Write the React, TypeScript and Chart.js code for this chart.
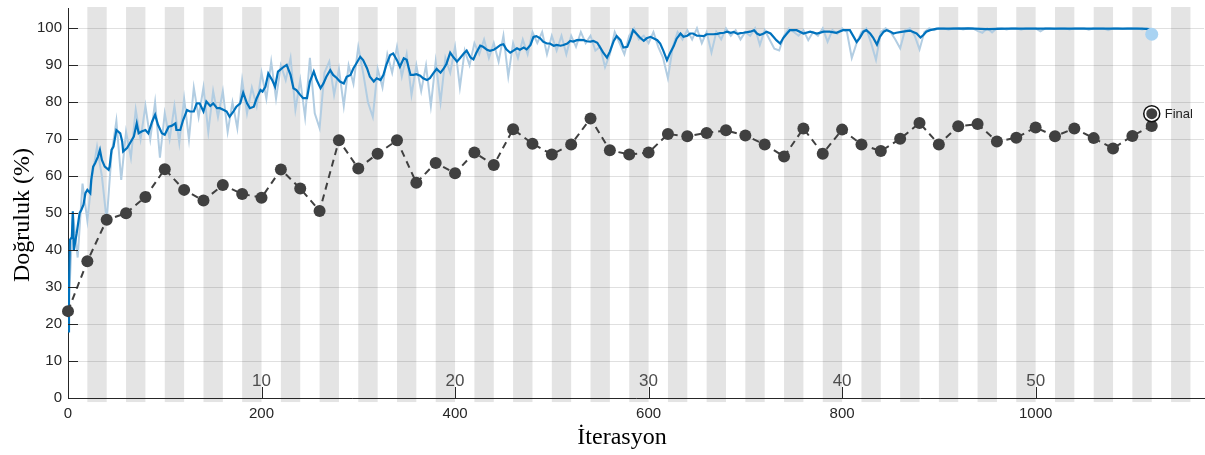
import React, { useEffect, useRef } from "react";
import { Chart, registerables } from "chart.js";

Chart.register(...registerables);

// ---------- data ----------
const ITER_PER_EPOCH = 20;
const TOTAL_EPOCHS = 58;
const epochTickLabels = [10, 20, 30, 40, 50];
const xTickValues = [0, 200, 400, 600, 800, 1000];
const yTickValues = [0, 10, 20, 30, 40, 50, 60, 70, 80, 90, 100];
const X_MAX = 1174;
const Y_MAX = 105.5;

const smoothIter = [
  0, 1, 2, 4, 5, 6, 9, 12, 14, 16, 18, 20, 23, 24, 26, 28, 31, 33, 35, 38, 42, 43, 45, 47, 50, 54, 56, 57, 61, 64,
  68, 71, 73, 76, 80, 83, 87, 90, 93, 97, 100, 104, 107, 111, 112, 116, 119, 123, 126, 130, 133, 136, 140, 143, 147,
  150, 154, 157, 161, 164, 167, 171, 174, 178, 181, 185, 188, 192, 195, 199, 201, 204, 207, 211, 214, 217, 223, 226,
  230, 233, 236, 240, 243, 247, 250, 254, 257, 261, 264, 267, 271, 274, 278, 281, 285, 288, 292, 295, 298, 302, 305,
  309, 312, 316, 319, 323, 326, 329, 333, 336, 340, 343, 347, 350, 354, 357, 360, 364, 367, 371, 374, 378, 381, 385,
  388, 391, 395, 398, 402, 405, 409, 412, 416, 419, 422, 426, 429, 433, 436, 440, 443, 447, 450, 453, 457, 460, 464,
  467, 471, 474, 478, 481, 484, 488, 491, 495, 498, 502, 505, 509, 512, 516, 519, 522, 526, 529, 533, 536, 540, 543,
  547, 550, 553, 557, 560, 564, 567, 571, 574, 578, 581, 584, 588, 591, 595, 598, 602, 605, 609, 612, 615, 619, 622,
  626, 629, 633, 636, 640, 643, 646, 650, 653, 657, 660, 664, 667, 671, 674, 678, 681, 685, 688, 692, 695, 698, 705,
  709, 712, 715, 719, 722, 726, 729, 732, 736, 739, 743, 746, 753, 760, 767, 774, 781, 787, 794, 801, 808, 812, 815,
  818, 822, 825, 829, 832, 836, 839, 843, 846, 850, 853, 856, 863, 870, 877, 881, 884, 887, 891, 898, 910, 930, 950,
  970, 1000, 1030, 1060, 1090, 1110, 1120,
];
const smoothAcc = [
  18, 30, 42.8, 43.5, 50.5, 40, 44.6, 50, 51, 52.3, 55.4, 56.3, 55.4, 59, 62.6, 63.5, 65.3, 67.1, 64.4, 62.6, 61.7,
  62.6, 67.1, 68, 72.5, 71.6, 69.4, 66.7, 67.6, 68.9, 70.7, 74.3, 71.6, 72.1, 72.5, 71.6, 74.8, 76.6, 73.9, 71.6, 71.2,
  73.4, 73.6, 74.3, 72.5, 72.5, 75.2, 77.9, 77.5, 77.5, 79.7, 79.7, 77.5, 80.2, 79, 79.7, 78.4, 78.4, 77.9, 77.5, 76.1,
  77.5, 78.8, 79.7, 82.6, 79.7, 78.4, 78.8, 81.1, 83.3, 82.9, 84.2, 87.8, 86, 84.2, 88.3, 89.6, 90.1, 87.4, 83.8, 83.3,
  82, 81.1, 81.1, 85.6, 88.3, 86, 83.8, 85.1, 86.9, 88.7, 87.4, 86.5, 85.6, 85.1, 86.9, 87.4, 89.2, 90.5, 92.3, 91.4,
  89.2, 86.9, 85.6, 86.5, 86, 87.4, 90.1, 92.8, 93.2, 91.4, 89.6, 91.9, 91.5, 87.4, 87.4, 87.6, 87.2, 86.5, 86, 86.5,
  88, 89, 88, 89, 90.3, 93.4, 92.3, 91, 91.9, 93.2, 94, 92.1, 91.6, 93.4, 95.3, 95, 94.2, 93.9, 94.2, 94.7, 95.5, 95.7,
  94.3, 93.4, 93.9, 94.6, 94.2, 94.8, 94.3, 95.5, 97.7, 97.9, 97.3, 96.4, 95.9, 95.9, 95.3, 95.5, 95.3, 95.5, 95.9,
  96.6, 96.4, 96.8, 96.9, 96.8, 96.5, 96.4, 96.6, 96.1, 94.8, 93.5, 92.1, 93.7, 96.6, 97.9, 96.8, 94.8, 95, 97, 99.5,
  98.4, 97.5, 96.6, 97.3, 97.7, 97.3, 96.8, 95.9, 94.1, 91.4, 93.2, 95.2, 97.2, 98.6, 97.7, 98, 98.6, 98.6, 98, 98,
  97.9, 98.4, 98.4, 98.4, 98.5, 98.7, 98.8, 99.1, 98.8, 99, 98.5, 98.7, 98.8, 99.1, 99.5, 98.6, 98.2, 98.6, 99.1, 98.6,
  97.7, 96.8, 95.9, 97.3, 98.6, 99.5, 99.5, 98.6, 99.1, 98.6, 99.1, 99.1, 98.8, 99.5, 99.5, 97.7, 96.3, 97.3, 99.1,
  99.5, 98.6, 97.5, 95.6, 97.7, 99.1, 99.5, 99.1, 98.6, 98.8, 99.1, 99.4, 98.6, 97.5, 98.2, 99.1, 99.5, 99.9, 99.9,
  100, 99.8, 99.9, 99.9, 99.9, 99.9, 99.9, 99.9, 99.7,
];

// raw (unsmoothed) training accuracy, sampled every RAW_STEP iterations
const RAW_STEP = 5;
const rawAcc = [
  20, 50, 38, 58, 48, 60, 68, 60, 48, 66, 75, 59, 72, 65, 78, 70, 79, 70, 80, 65,
  77, 70, 79, 69, 81, 70, 84, 76, 84, 72, 83, 76, 83, 72, 80, 73, 86, 77, 84, 79,
  88, 81, 91, 81, 90, 86, 92, 78, 86, 76, 92, 77, 73, 88, 91, 82, 89, 79, 90, 85,
  95, 88, 80, 76, 89, 84, 93, 88, 95, 87, 93, 82, 90, 83, 90, 79, 91, 80, 92, 88,
  95, 84, 94, 90, 96, 93, 97, 92, 96, 91, 98, 87, 96, 92, 97, 93, 99, 96, 99, 93,
  98, 94, 98, 93, 98, 95, 99, 96, 98, 94, 95, 89.5, 93, 99, 96, 93, 98, 100, 97, 98,
  96, 99, 95, 92, 86.5, 95, 99, 97, 99.5, 97, 100, 96, 99, 93.5, 99, 97, 100, 98, 99.5, 97,
  99, 98, 100, 95.5, 99.5, 97, 94.5, 94, 98, 100, 99, 98, 99.5, 96.8, 99, 98, 100, 96.4, 99.5, 98.5,
  100, 99, 92, 96, 99, 100, 96, 91.5, 99, 100, 99, 97, 94.6, 99.5, 100, 98, 94.3, 99, 100, 99.5,
  100, 100, 99.6, 100, 100, 99.7, 100, 100, 99.3, 98.8, 100, 98.9, 100, 100, 99.7, 100, 100, 99.6, 100, 100,
  100, 99.2, 100, 100, 99.8, 100, 100, 99.7, 100, 100, 100, 99.6, 100, 100, 100, 99.5, 100, 100, 99.8, 100,
  100, 100, 99.7, 100, 99.8,
];

const VAL_STEP = 20;
const valAcc = [
  23.5, 37, 48.2, 50, 54.4, 61.9, 56.3, 53.4, 57.6, 55.2, 54.2, 61.8, 56.7, 50.6, 69.7, 62.1, 66.1, 69.7, 58.2, 63.6,
  60.8, 66.4, 63, 72.7, 68.8, 65.9, 68.6, 75.6, 67, 65.9, 66.4, 71.4, 70.8, 71.7, 72.4, 71, 68.6, 65.3, 72.9, 66.1,
  72.6, 68.6, 66.8, 70.1, 74.4, 68.6, 73.5, 74.1, 69.4, 70.4, 73.2, 70.8, 72.9, 70.3, 67.5, 70.9, 73.6,
];

const finalIter = 1120;
const finalValAcc = 76.9;
const finalTrainAcc = 98.4;
const finalLabel = "Final";
const xTitle = "İterasyon";
const yTitle = "Doğruluk (%)";

// ---------- styles ----------
const SANS = "'Liberation Sans', Arial, sans-serif";
const SERIF = "'Liberation Serif', 'Times New Roman', serif";
const BLUE = "#0072BD";
const LIGHT_BLUE = "#b2cde2";
const DOT_BLUE = "#a9d3f2";
const VAL_GRAY = "#404040";
const AXIS = "#262626";

const decorPlugin = {
  id: "decor",
  beforeDraw(chart: any) {
    const { ctx, chartArea, scales } = chart;
    const x = scales.x;
    const y = scales.y;
    ctx.save();
    ctx.fillStyle = "#e4e4e4";
    const bottom = y.getPixelForValue(-1.1);
    for (let e = 1; e < TOTAL_EPOCHS; e += 2) {
      const x0 = x.getPixelForValue(e * ITER_PER_EPOCH);
      const x1 = Math.min(x.getPixelForValue((e + 1) * ITER_PER_EPOCH), chartArea.right);
      if (x0 >= chartArea.right) break;
      ctx.fillRect(x0, chartArea.top - 1, x1 - x0, bottom - chartArea.top + 1);
    }
    ctx.restore();
  },
  afterDraw(chart: any) {
    const { ctx, chartArea, scales } = chart;
    const x = scales.x;
    const y = scales.y;
    ctx.save();
    // inward ticks
    ctx.strokeStyle = AXIS;
    ctx.lineWidth = 1;
    ctx.beginPath();
    for (const v of yTickValues) {
      const py = Math.round(y.getPixelForValue(v)) + 0.5;
      ctx.moveTo(chartArea.left, py);
      ctx.lineTo(chartArea.left + 10, py);
    }
    for (const v of xTickValues) {
      const px = Math.round(x.getPixelForValue(v)) + 0.5;
      ctx.moveTo(px, chartArea.bottom);
      ctx.lineTo(px, chartArea.bottom - 11);
    }
    ctx.stroke();
    // epoch labels
    ctx.fillStyle = "#4d4d4d";
    ctx.font = `17px ${SANS}`;
    ctx.textAlign = "center";
    ctx.textBaseline = "alphabetic";
    for (const ep of epochTickLabels) {
      ctx.fillText(String(ep), x.getPixelForValue(ep * ITER_PER_EPOCH), chartArea.bottom - 12);
    }
    // final marker
    const fx = x.getPixelForValue(finalIter);
    const fy = y.getPixelForValue(finalValAcc);
    ctx.beginPath();
    ctx.arc(fx, fy, 8, 0, Math.PI * 2);
    ctx.fillStyle = "#ffffff";
    ctx.fill();
    ctx.lineWidth = 1.5;
    ctx.strokeStyle = "#111111";
    ctx.stroke();
    ctx.beginPath();
    ctx.arc(fx, fy, 5.5, 0, Math.PI * 2);
    ctx.fillStyle = VAL_GRAY;
    ctx.fill();
    ctx.fillStyle = "#222222";
    ctx.font = `13px ${SANS}`;
    ctx.textAlign = "left";
    ctx.textBaseline = "middle";
    ctx.fillText(finalLabel, fx + 13, fy + 1);
    // axis titles
    ctx.fillStyle = "#000000";
    ctx.font = `24px ${SERIF}`;
    ctx.textAlign = "center";
    ctx.textBaseline = "middle";
    ctx.fillText(xTitle, chartArea.left + 554, chartArea.bottom + 40);
    ctx.translate(23, chartArea.top + 207);
    ctx.rotate(-Math.PI / 2);
    ctx.fillText(yTitle, 0, 0);
    ctx.restore();
  },
};

export default function App() {
  const canvasRef = useRef<HTMLCanvasElement | null>(null);

  useEffect(() => {
    document.body.style.margin = "0";
    const canvas = canvasRef.current;
    if (!canvas) return;

    const smoothData = smoothIter.map((it, i) => ({ x: it, y: smoothAcc[i] }));
    const rawData = rawAcc.map((v, i) => ({ x: i * RAW_STEP, y: v }));
    const valData = valAcc.map((v, i) => ({ x: i * VAL_STEP, y: v }));

    const chart = new Chart(canvas, {
      type: "line",
      data: {
        datasets: [
          {
            label: "final-train",
            data: [{ x: finalIter, y: finalTrainAcc }],
            showLine: false,
            pointRadius: 6.5,
            pointBackgroundColor: DOT_BLUE,
            pointBorderWidth: 0,
            order: 0,
          },
          {
            label: "val",
            data: valData,
            borderColor: VAL_GRAY,
            borderWidth: 2,
            borderDash: [7, 5],
            pointRadius: 6,
            pointBackgroundColor: VAL_GRAY,
            pointBorderWidth: 0,
            clip: false as any,
            order: 1,
          },
          {
            label: "smooth",
            data: smoothData,
            borderColor: BLUE,
            borderWidth: 2.2,
            pointRadius: 0,
            order: 2,
          },
          {
            label: "raw",
            data: rawData,
            borderColor: LIGHT_BLUE,
            borderWidth: 2,
            pointRadius: 0,
            order: 3,
          },
        ],
      },
      options: {
        responsive: false,
        animation: false,
        events: [],
        layout: { autoPadding: false, padding: { top: 8, right: 1, left: 0, bottom: 0 } },
        plugins: {
          legend: { display: false },
          tooltip: { enabled: false },
        },
        scales: {
          x: {
            type: "linear",
            min: 0,
            max: X_MAX,
            afterFit: (s: any) => {
              s.height = 57;
              s.paddingLeft = 0;
              s.paddingRight = 0;
            },
            afterBuildTicks: (s: any) => {
              s.ticks = xTickValues.map((v) => ({ value: v }));
            },
            ticks: {
              color: AXIS,
              font: { family: SANS, size: 15 },
              padding: 7,
              maxRotation: 0,
              autoSkip: false,
              callback: (v: any) => String(v),
            },
            grid: { display: false, drawTicks: false },
            border: { display: true, color: AXIS, width: 1 },
          },
          y: {
            type: "linear",
            min: 0,
            max: Y_MAX,
            afterFit: (s: any) => {
              s.width = 68;
              s.paddingTop = 0;
              s.paddingBottom = 0;
            },
            afterBuildTicks: (s: any) => {
              s.ticks = yTickValues.map((v) => ({ value: v }));
            },
            ticks: {
              color: AXIS,
              font: { family: SANS, size: 15 },
              padding: 6,
              autoSkip: false,
              callback: (v: any) => String(v),
            },
            grid: { color: "rgba(0,0,0,0.12)", lineWidth: 1, drawTicks: false },
            border: { display: true, color: AXIS, width: 1 },
          },
        },
      },
      plugins: [decorPlugin],
    });

    return () => {
      chart.destroy();
    };
  }, []);

  return (
    <div style={{ position: "absolute", left: 0, top: 0, width: 1205, height: 455, background: "#fff" }}>
      <canvas ref={canvasRef} width={1205} height={455} style={{ width: 1205, height: 455 }} />
    </div>
  );
}
